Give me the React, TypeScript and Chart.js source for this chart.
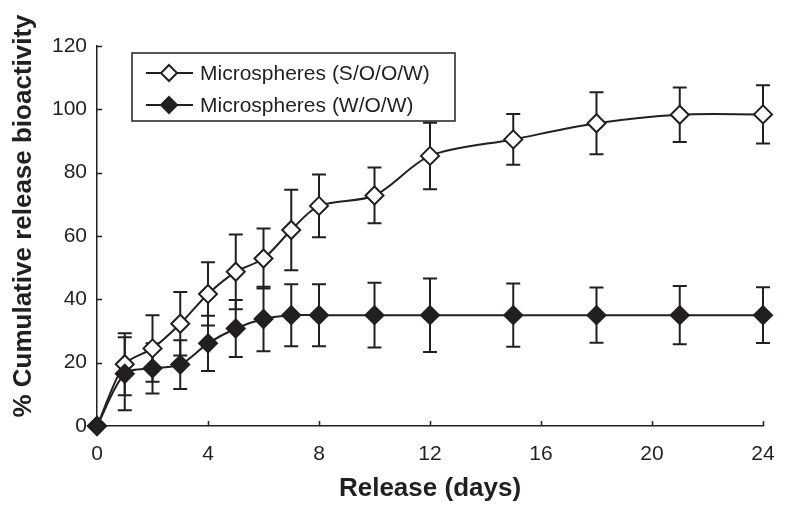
import React, { useEffect, useRef } from "react";
import { Chart, registerables } from "chart.js";

Chart.register(...registerables);

// ---- data ----
const days = [0, 1, 2, 3, 4, 5, 6, 7, 8, 10, 12, 15, 18, 21, 24];
const soowMean = [0, 19.5, 24.5, 32.3, 41.7, 48.7, 52.9, 61.9, 69.5, 72.8, 85.3, 90.5, 95.6, 98.3, 98.4];
const soowErr = [0, 9.8, 10.5, 10, 10, 11.8, 9.5, 12.7, 9.9, 8.8, 10.5, 8, 9.8, 8.6, 9.2];
const wowMean = [0, 16.5, 18.2, 19.4, 26.1, 30.8, 33.8, 35, 35, 35, 35, 35, 35, 35, 35];
const wowErr = [0, 11.5, 7.9, 7.7, 8.7, 9, 10.2, 9.8, 9.8, 10.2, 11.6, 10, 8.7, 9.2, 8.8];
const seriesNames = ["Microspheres (S/O/O/W)", "Microspheres (W/O/W)"];
const xTickValues = [0, 4, 8, 12, 16, 20, 24];
const yTickValues = [0, 20, 40, 60, 80, 100, 120];
const xTitle = "Release (days)";
const yTitle = "% Cumulative release bioactivity";

const INK = "#231f20";
const FONT = '"Liberation Sans", Arial, Helvetica, sans-serif';

function diamond(ctx: CanvasRenderingContext2D, x: number, y: number, r: number, fill: string) {
  ctx.beginPath();
  ctx.moveTo(x, y - r);
  ctx.lineTo(x + r, y);
  ctx.lineTo(x, y + r);
  ctx.lineTo(x - r, y);
  ctx.closePath();
  ctx.fillStyle = fill;
  ctx.fill();
  ctx.lineWidth = 2;
  ctx.strokeStyle = INK;
  ctx.stroke();
}

const errorBarPlugin = {
  id: "errorBars",
  beforeDatasetsDraw(chart: any) {
    const { ctx, scales } = chart;
    const x = scales.x;
    const y = scales.y;
    ctx.save();
    // inward tick marks
    ctx.strokeStyle = INK;
    ctx.lineWidth = 1.5;
    ctx.beginPath();
    xTickValues.forEach((v) => {
      const px = Math.round(x.getPixelForValue(v)) + 0.5;
      ctx.moveTo(px, y.bottom);
      ctx.lineTo(px, y.bottom - 5);
    });
    yTickValues.forEach((v) => {
      const py = Math.round(y.getPixelForValue(v)) + 0.5;
      ctx.moveTo(x.left, py);
      ctx.lineTo(x.left + 5, py);
    });
    ctx.stroke();
    // error bars
    ctx.lineWidth = 2;
    chart.data.datasets.forEach((ds: any) => {
      const errs: number[] = ds.errors;
      if (!errs) return;
      ds.data.forEach((pt: any, i: number) => {
        const e = errs[i];
        if (!e) return;
        const px = x.getPixelForValue(pt.x);
        const top = y.getPixelForValue(pt.y + e);
        const bot = y.getPixelForValue(pt.y - e);
        ctx.beginPath();
        ctx.moveTo(px, top);
        ctx.lineTo(px, bot);
        ctx.moveTo(px - 7, top);
        ctx.lineTo(px + 7, top);
        ctx.moveTo(px - 7, bot);
        ctx.lineTo(px + 7, bot);
        ctx.stroke();
      });
    });
    ctx.restore();
  },
};

const decorPlugin = {
  id: "decor",
  afterDraw(chart: any) {
    const { ctx, chartArea } = chart;
    ctx.save();
    // y-axis title
    ctx.translate(24, 216);
    ctx.rotate(-Math.PI / 2);
    ctx.font = `bold 26px ${FONT}`;
    ctx.fillStyle = INK;
    ctx.textAlign = "center";
    ctx.textBaseline = "middle";
    ctx.fillText(yTitle, 0, 0);
    ctx.restore();

    // legend box
    ctx.save();
    const bx = chartArea.left + 35;
    const by = chartArea.top + 7;
    const bw = 323;
    const bh = 68;
    ctx.fillStyle = "#ffffff";
    ctx.fillRect(bx, by, bw, bh);
    ctx.strokeStyle = INK;
    ctx.lineWidth = 1.5;
    ctx.strokeRect(bx, by, bw, bh);
    const fills = ["#ffffff", INK];
    seriesNames.forEach((name, i) => {
      const cy = by + 20 + i * 32;
      ctx.beginPath();
      ctx.moveTo(bx + 14, cy);
      ctx.lineTo(bx + 61, cy);
      ctx.lineWidth = 2;
      ctx.strokeStyle = INK;
      ctx.stroke();
      diamond(ctx, bx + 37, cy, 8, fills[i]);
      ctx.font = `21px ${FONT}`;
      ctx.fillStyle = INK;
      ctx.textAlign = "left";
      ctx.textBaseline = "middle";
      ctx.fillText(name, bx + 68, cy + 1);
    });
    ctx.restore();
  },
};

export default function App() {
  const ref = useRef<HTMLCanvasElement | null>(null);

  useEffect(() => {
    if (!ref.current) return;
    const chart = new Chart(ref.current, {
      type: "line",
      data: {
        datasets: [
          {
            label: seriesNames[0],
            data: days.map((d, i) => ({ x: d, y: soowMean[i] })),
            errors: soowErr,
            borderColor: INK,
            borderWidth: 2,
            backgroundColor: "#ffffff",
            pointStyle: "rectRot",
            pointRadius: 9,
            pointBorderWidth: 2,
            pointBackgroundColor: "#ffffff",
            pointBorderColor: INK,
            tension: 0.3,
            clip: false,
            order: 1,
          } as any,
          {
            label: seriesNames[1],
            data: days.map((d, i) => ({ x: d, y: wowMean[i] })),
            errors: wowErr,
            borderColor: INK,
            borderWidth: 2,
            backgroundColor: INK,
            pointStyle: "rectRot",
            pointRadius: 9,
            pointBorderWidth: 2,
            pointBackgroundColor: INK,
            pointBorderColor: INK,
            tension: 0.3,
            clip: false,
            order: 0,
          } as any,
        ],
      },
      options: {
        responsive: false,
        animation: false,
        devicePixelRatio: 1,
        layout: { autoPadding: false, padding: { top: 46, right: 23, bottom: 0, left: 0 } },
        plugins: {
          legend: { display: false },
          tooltip: { enabled: false },
        },
        scales: {
          x: {
            type: "linear",
            min: 0,
            max: 24,
            afterBuildTicks: (s: any) => {
              s.ticks = xTickValues.map((v) => ({ value: v }));
            },
            ticks: {
              color: INK,
              font: { family: FONT, size: 21 },
              padding: 16,
              maxRotation: 0,
            },
            grid: { drawOnChartArea: false, drawTicks: false },
            border: { color: INK, width: 1.5 },
            title: {
              display: true,
              text: xTitle,
              color: INK,
              font: { family: FONT, size: 26, weight: "bold" },
              padding: { top: 0, bottom: 12 },
            },
            afterFit: (s: any) => {
              s.height = 90;
              s.paddingLeft = 0;
              s.paddingRight = 0;
            },
          },
          y: {
            type: "linear",
            min: 0,
            max: 120,
            afterBuildTicks: (s: any) => {
              s.ticks = yTickValues.map((v) => ({ value: v }));
            },
            ticks: {
              color: INK,
              font: { family: FONT, size: 21 },
              padding: 10,
            },
            grid: { drawOnChartArea: false, drawTicks: false },
            border: { color: INK, width: 1.5 },
            afterFit: (s: any) => {
              s.width = 97;
              s.paddingTop = 0;
              s.paddingBottom = 0;
            },
          },
        },
      } as any,
      plugins: [errorBarPlugin, decorPlugin],
    });
    return () => chart.destroy();
  }, []);

  return (
    <div style={{ position: "fixed", left: 0, top: 0, width: 786, height: 516, background: "#ffffff" }}>
      <canvas ref={ref} width={786} height={516} style={{ display: "block" }} />
    </div>
  );
}
